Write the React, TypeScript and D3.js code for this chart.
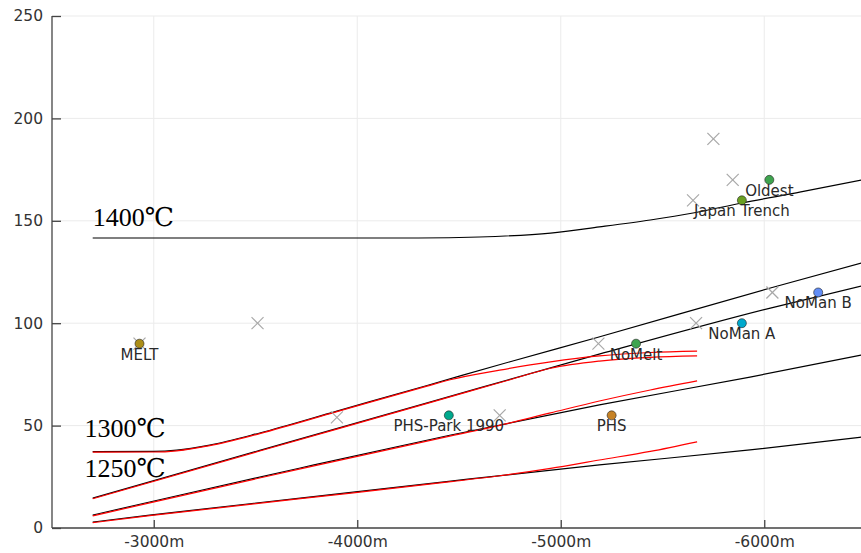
import * as d3 from 'd3'
import { FC, useEffect, useRef } from 'react'

// depth (m) / value pairs
const line1400: [number, number][] = [
  [-2700, 141.6], [-3500, 141.6], [-4300, 141.6], [-4600, 142.1], [-4950, 144.0],
  [-5190, 147.0], [-5440, 150.4], [-5650, 153.8], [-5890, 158.7], [-6180, 164.1], [-6480, 169.9],
]
const line1300: [number, number][] = [
  [-2700, 37.3], [-3000, 37.4], [-3113, 38.0], [-3275, 40.5], [-3521, 46.4], [-3900, 57.1],
  [-4343, 69.6], [-4751, 81.2], [-5179, 93.0], [-6030, 117.2], [-6480, 129.4],
]
const lineB: [number, number][] = [
  [-2700, 14.6], [-3521, 37.9], [-4357, 61.5], [-5193, 85.0], [-6030, 107.4], [-6480, 118.2],
]
const lineC: [number, number][] = [
  [-2700, 6.3], [-2980, 12.7], [-3720, 29.3], [-4460, 45.4], [-5190, 60.1], [-5930, 73.7], [-6480, 84.5],
]
const lineD: [number, number][] = [
  [-2700, 2.9], [-2980, 6.3], [-3720, 14.6], [-4460, 22.9], [-5190, 30.8], [-5930, 38.1], [-6480, 44.4],
]

const red1: [number, number][] = [
  [-2700, 37.0], [-3000, 37.1], [-3113, 37.7], [-3275, 40.2], [-3521, 46.1], [-3900, 56.8],
  [-4343, 69.3], [-4456, 72.4], [-4700, 77.1], [-4950, 81.1], [-5190, 84.0], [-5440, 85.7], [-5670, 86.4],
]
const red2: [number, number][] = [
  [-2700, 14.3], [-3521, 37.6], [-4357, 61.2], [-4751, 72.4], [-4950, 78.0],
  [-5190, 81.5], [-5440, 83.3], [-5670, 84.0],
]
const red3: [number, number][] = [
  [-2700, 5.9], [-2980, 12.3], [-3720, 28.9], [-4460, 45.0], [-4700, 50.1], [-4950, 56.2],
  [-5190, 62.0], [-5440, 67.4], [-5670, 71.8],
]
const red4: [number, number][] = [
  [-2700, 2.6], [-2980, 6.0], [-3720, 14.3], [-4460, 22.6], [-4700, 25.5], [-4950, 29.1],
  [-5190, 33.2], [-5440, 37.4], [-5670, 42.1],
]

// grey crosses
const crossDepths = [-2930, -3510, -3900, -4700, -5185, -5665, -6040, -5650, -5845, -5750]
const crossValues = [90, 100, 54, 55, 90, 100, 115, 160, 170, 190]

// named sites
const siteNames = ['MELT', 'PHS-Park 1990', 'PHS', 'NoMelt', 'NoMan A', 'NoMan B', 'Japan Trench', 'Oldest']
const siteDepths = [-2930, -4450, -5250, -5370, -5890, -6265, -5890, -6025]
const siteValues = [90, 55, 55, 90, 100, 115, 160, 170]
const siteColors = ['#ac8e18', '#00a98d', '#c68225', '#3ea44e', '#00a9cd', '#618df6', '#6a9f22', '#3ea44e']

const xTicks = [-3000, -4000, -5000, -6000]
const yTicks = [0, 50, 100, 150, 200, 250]

const tempLabels = ['1400℃', '1300℃', '1250℃']
const tempDepths = [-2700, -2660, -2660]
const tempValues = [147.5, 44.5, 25.0]

const width = 861
const height = 553

const DepthChart: FC = () => {
  const svgRef = useRef<SVGSVGElement>(null)

  useEffect(() => {
    const svg = d3.select(svgRef.current)
    svg.selectAll('*').remove()

    const margin = { top: 16, left: 52, bottom: 25 }
    const xScale = d3.scaleLinear().domain([-2500, -6500]).range([margin.left, 866])
    const yScale = d3.scaleLinear().domain([0, 250]).range([height - margin.bottom, margin.top])
    const x0 = margin.left
    const y0 = height - margin.bottom

    // grid
    const grid = svg.append('g').attr('stroke', '#ebebeb').attr('stroke-width', 1)
    yTicks.forEach((t) => {
      grid.append('line').attr('x1', x0).attr('x2', width).attr('y1', yScale(t)).attr('y2', yScale(t))
    })
    xTicks.forEach((t) => {
      grid.append('line').attr('x1', xScale(t)).attr('x2', xScale(t)).attr('y1', margin.top).attr('y2', y0)
    })

    // curves
    const line = d3
      .line<[number, number]>()
      .x((d) => xScale(d[0]))
      .y((d) => yScale(d[1]))
      .curve(d3.curveMonotoneX)

    const curves = svg.append('g').attr('fill', 'none').attr('stroke-width', 1.2)
    ;[line1400, line1300, lineB, lineC, lineD].forEach((pts) => {
      curves.append('path').attr('d', line(pts)).attr('stroke', '#000')
    })
    ;[red1, red2, red3, red4].forEach((pts) => {
      curves.append('path').attr('d', line(pts)).attr('stroke', '#ff0000')
    })

    // axes
    const axisColor = '#444'
    const xAxis = d3.axisBottom(xScale).tickValues(xTicks).tickSize(-8).tickPadding(8).tickFormat((d) => `${d}m`)
    const gx = svg.append('g').attr('transform', `translate(0, ${y0})`).call(xAxis)
    gx.select('.domain').remove()
    gx.append('line').attr('x1', x0).attr('x2', width).attr('stroke', axisColor).attr('stroke-width', 1.3)
    gx.selectAll('.tick line').attr('stroke', axisColor).attr('stroke-width', 1.3)
    gx.selectAll('.tick text')
      .attr('fill', '#333')
      .style('font-family', 'DejaVu Sans, sans-serif')
      .style('font-size', '15.5px')

    const yAxis = d3.axisLeft(yScale).tickValues(yTicks).tickSize(-9).tickPadding(9)
    const gy = svg.append('g').attr('transform', `translate(${x0}, 0)`).call(yAxis)
    gy.select('.domain').remove()
    gy.append('line').attr('y1', margin.top).attr('y2', y0).attr('stroke', axisColor).attr('stroke-width', 1.3)
    gy.selectAll('.tick line').attr('stroke', axisColor).attr('stroke-width', 1.3)
    gy.selectAll('.tick text')
      .attr('fill', '#333')
      .style('font-family', 'DejaVu Sans, sans-serif')
      .style('font-size', '15.5px')

    // grey crosses
    const s = 6
    const crosses = svg.append('g').attr('stroke', '#a8a8a8').attr('stroke-width', 1.2)
    crossDepths.forEach((d, i) => {
      const cx = xScale(d)
      const cy = yScale(crossValues[i])
      crosses.append('line').attr('x1', cx - s).attr('x2', cx + s).attr('y1', cy - s).attr('y2', cy + s)
      crosses.append('line').attr('x1', cx - s).attr('x2', cx + s).attr('y1', cy + s).attr('y2', cy - s)
    })

    // sites
    siteDepths.forEach((d, i) => {
      svg
        .append('circle')
        .attr('cx', xScale(d))
        .attr('cy', yScale(siteValues[i]))
        .attr('r', 4.5)
        .attr('fill', siteColors[i])
        .attr('stroke', '#222')
        .attr('stroke-width', 0.6)
    })
    siteDepths.forEach((d, i) => {
      svg
        .append('text')
        .attr('x', xScale(d))
        .attr('y', yScale(siteValues[i]) + 16)
        .attr('text-anchor', 'middle')
        .attr('fill', '#2a2a2a')
        .style('font-family', 'DejaVu Sans, sans-serif')
        .style('font-size', '15px')
        .text(siteNames[i])
    })

    // temperature labels
    tempLabels.forEach((t, i) => {
      svg
        .append('text')
        .attr('x', xScale(tempDepths[i]))
        .attr('y', yScale(tempValues[i]))
        .attr('fill', '#000')
        .style('font-family', 'Liberation Serif, DejaVu Serif, serif')
        .style('font-size', '26px')
        .text(t)
    })
  }, [])

  return <svg ref={svgRef} width={width} height={height} style={{ display: 'block', background: '#fff' }} />
}

export default function App() {
  return (
    <div style={{ position: 'absolute', left: 0, top: 0 }}>
      <DepthChart />
    </div>
  )
}
